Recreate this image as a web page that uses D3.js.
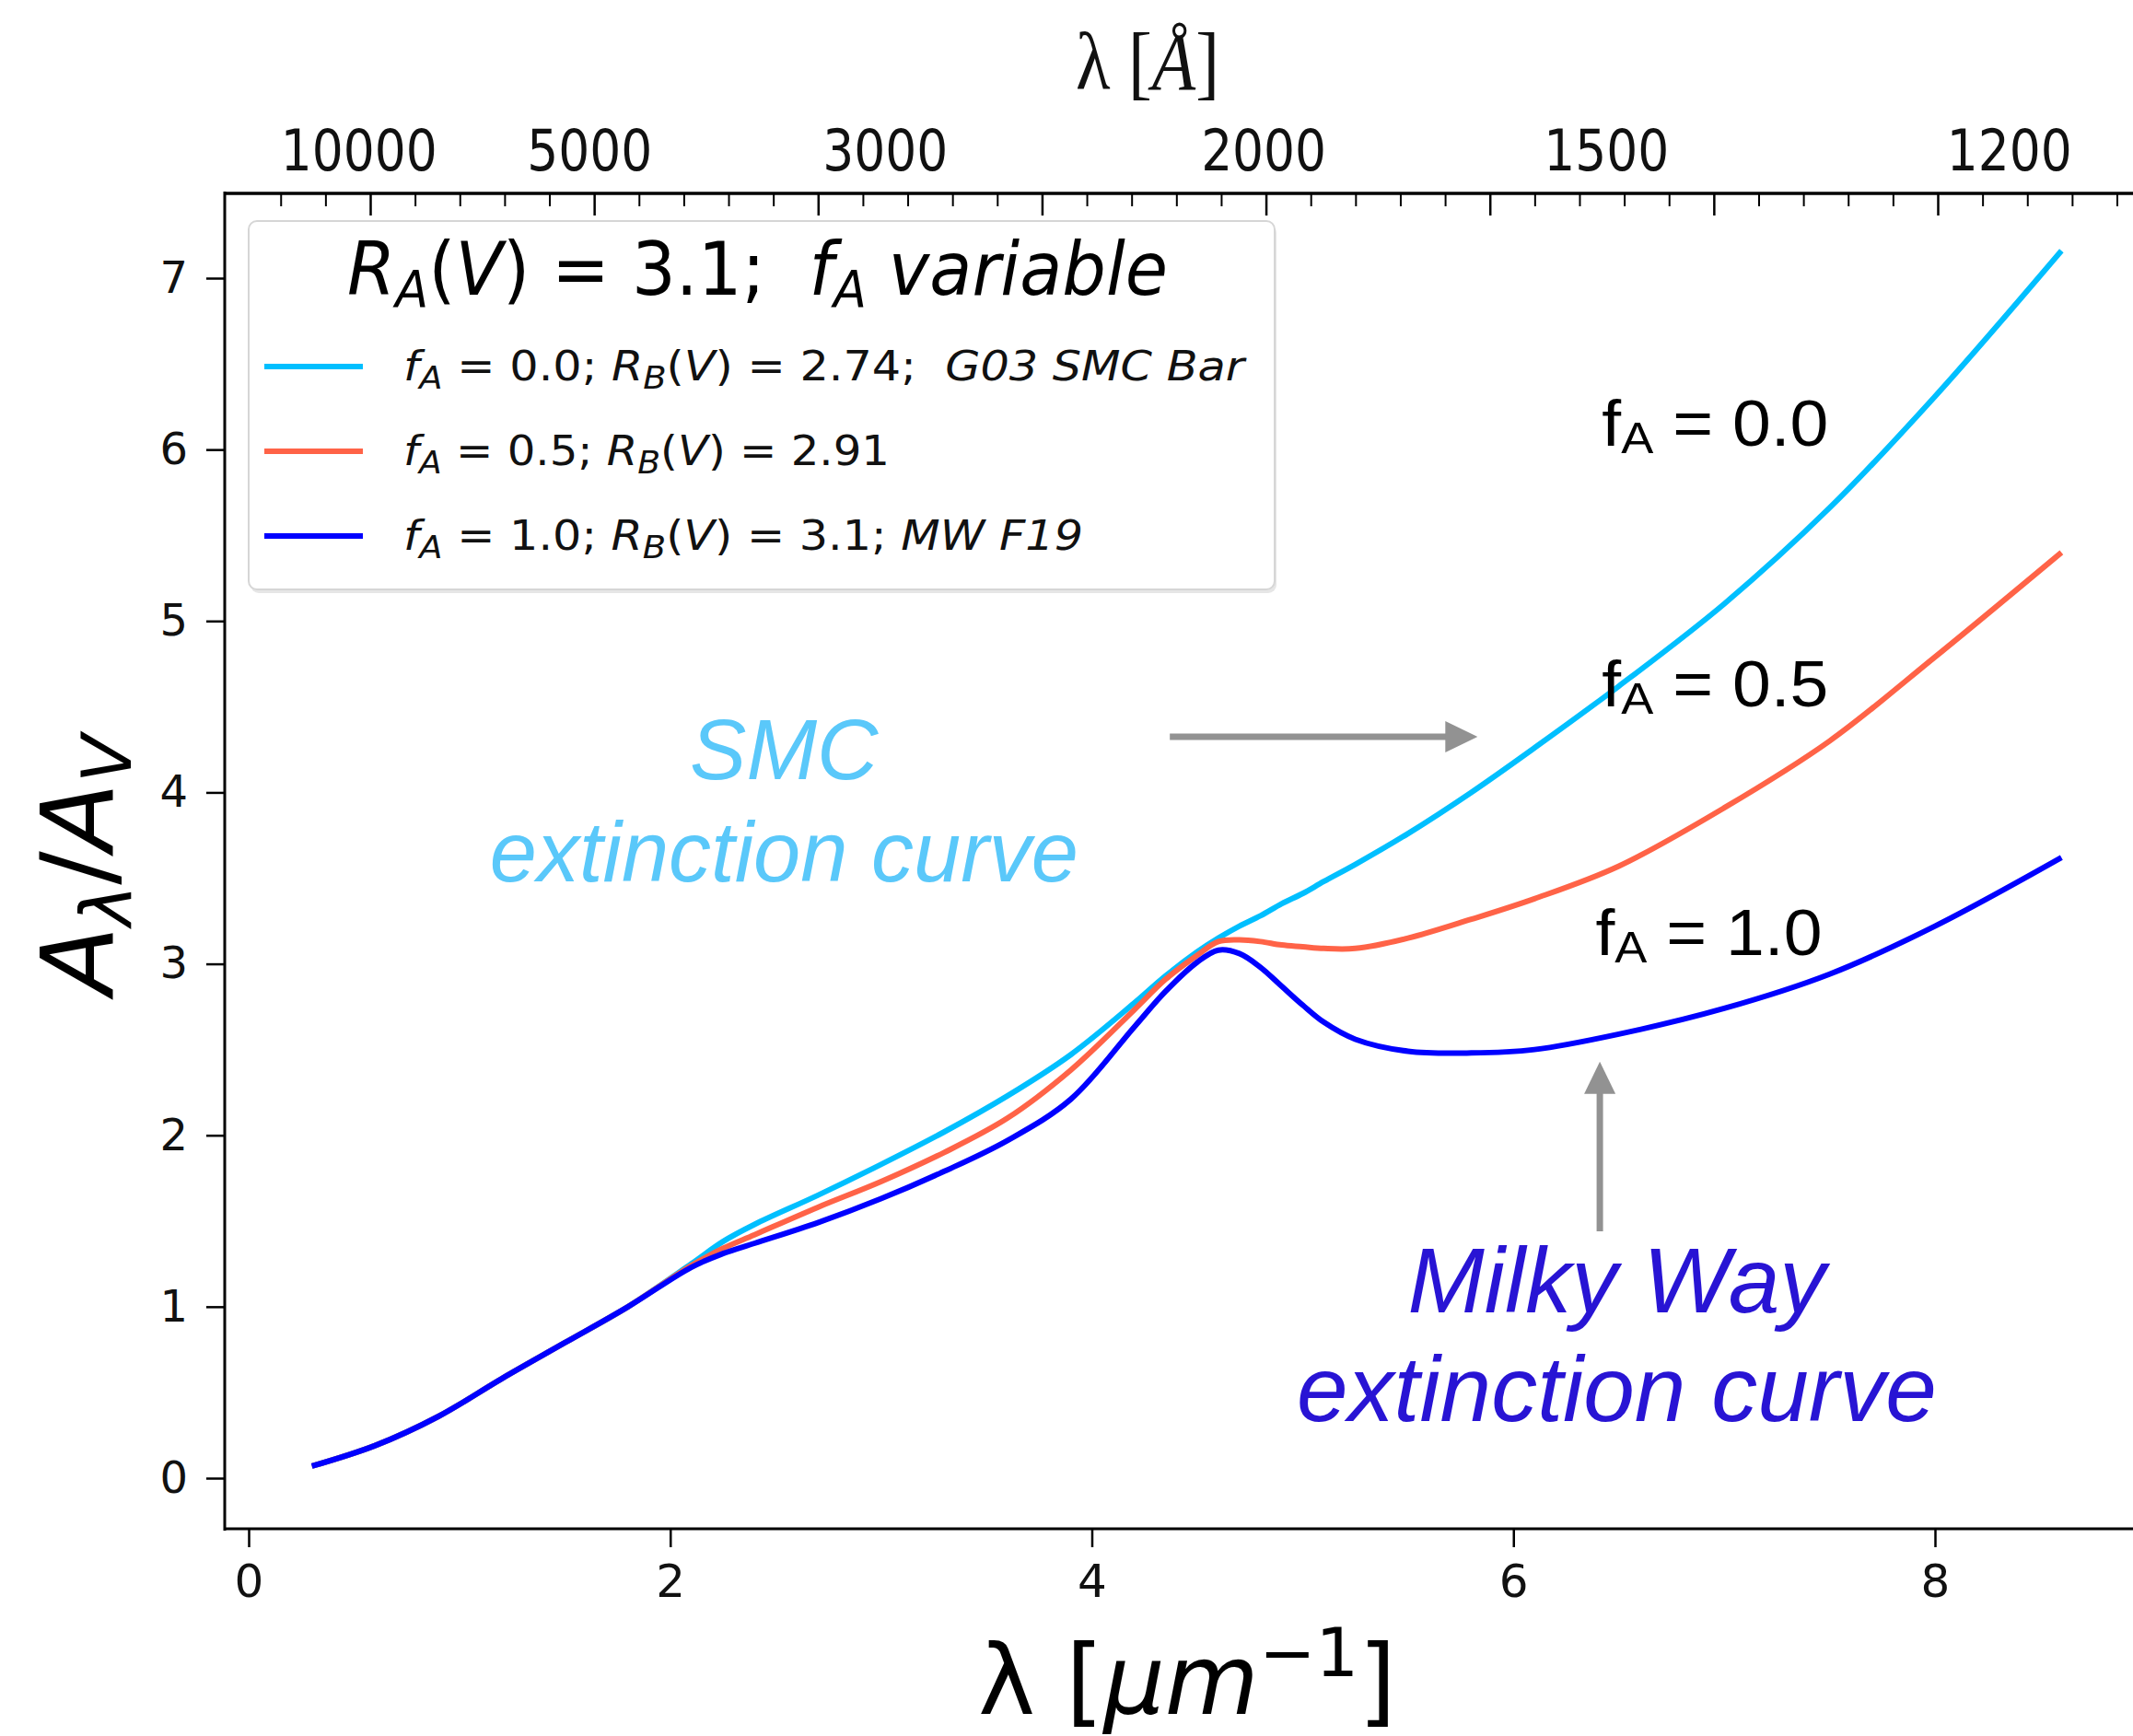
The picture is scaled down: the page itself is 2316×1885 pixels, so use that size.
<!DOCTYPE html>
<html>
<head>
<meta charset="utf-8">
<script src="https://cdnjs.cloudflare.com/ajax/libs/d3/7.8.5/d3.min.js"></script>
<style>
  body { margin: 0; background: #fff; }
  text { white-space: pre; }
</style>
</head>
<body>
<svg id="chart"></svg>
<script>
// wavenumber [1/micron] and A(lambda)/A(V)
const waveNumber = [0.3, 0.6, 0.9, 1.2, 1.5, 1.8, 2.1, 2.25, 2.4, 2.7, 3.0, 3.3, 3.6, 3.9,
  4.2, 4.35, 4.5, 4.6, 4.7, 4.8, 4.9, 5.0, 5.1, 5.25, 5.5, 5.8, 6.1, 6.5, 7.0, 7.5, 8.0, 8.6];
const curveFA00 = [0.07, 0.19, 0.36, 0.58, 0.79, 1.00, 1.25, 1.38, 1.48, 1.65, 1.83, 2.02, 2.23, 2.47,
  2.77, 2.93, 3.07, 3.15, 3.22, 3.28, 3.35, 3.41, 3.48, 3.58, 3.76, 4.00, 4.26, 4.62, 5.10, 5.66, 6.31, 7.16];
const curveFA05 = [0.07, 0.19, 0.36, 0.58, 0.79, 1.00, 1.24, 1.34, 1.42, 1.58, 1.73, 1.90, 2.10, 2.38,
  2.73, 2.91, 3.05, 3.13, 3.14, 3.13, 3.11, 3.10, 3.09, 3.09, 3.15, 3.26, 3.38, 3.57, 3.91, 4.30, 4.79, 5.40];
const curveFA10 = [0.07, 0.19, 0.36, 0.58, 0.79, 1.00, 1.23, 1.31, 1.37, 1.49, 1.63, 1.79, 1.97, 2.21,
  2.63, 2.84, 3.01, 3.08, 3.06, 2.98, 2.87, 2.76, 2.66, 2.56, 2.49, 2.48, 2.50, 2.59, 2.74, 2.94, 3.22, 3.62];

const xTicks = [0, 2, 4, 6, 8];
const yTicks = [0, 1, 2, 3, 4, 5, 6, 7];
const topMajorTicks = [1, 2, 3, 4, 5, 6, 7, 8];
const topLabels = ["10000", "5000", "3000", "2000", "1500", "1200"];
const topLabelAt = [0.95, 1.98, 3.30, 4.99, 6.52, 8.32];

// rich text pieces: [text, kind]  i=italic, n=upright, s=italic subscript, sup=superscript
const legendTitle = [["R", "i"], ["A", "s"], ["(", "n"], ["V", "i"], [") = 3.1;  ", "n"], ["f", "i"], ["A", "s"], [" variable", "i"]];
const legendRows = [
  [["f", "i"], ["A", "s"], [" = 0.0; ", "n"], ["R", "i"], ["B", "s"], ["(", "n"], ["V", "i"], [") = 2.74;  ", "n"], ["G03 SMC Bar", "i"]],
  [["f", "i"], ["A", "s"], [" = 0.5; ", "n"], ["R", "i"], ["B", "s"], ["(", "n"], ["V", "i"], [") = 2.91", "n"]],
  [["f", "i"], ["A", "s"], [" = 1.0; ", "n"], ["R", "i"], ["B", "s"], ["(", "n"], ["V", "i"], [") = 3.1; ", "n"], ["MW F19", "i"]]
];
const legendWidths = [913, 528, 738];
const seriesColors = ["#00bfff", "#ff6347", "#0000ff"];
const series = [curveFA00, curveFA05, curveFA10];

const fLabels = ["0.0", "0.5", "1.0"];
const fLabelAt = [[6.42, 6.02], [6.42, 4.50], [6.39, 3.05]];

const W = 2316, H = 1885;
const svg = d3.select("#chart").attr("width", W).attr("height", H);

const x = d3.scaleLinear().domain([0, 8]).range([270, 2101]);
const y = d3.scaleLinear().domain([0, 7]).range([1605, 302]);
const xTop = d3.scaleLinear().domain([1, 8]).range([402, 2104]);

const plotLeft = 244, plotRight = 2340, plotTop = 210, plotBottom = 1660;

function rich(sel, segs, size, subScale, drop) {
  let cur = 0;
  segs.forEach(s => {
    const t = sel.append("tspan").text(s[0]);
    let target = 0;
    if (s[1] === "i" || s[1] === "s") t.attr("font-style", "italic");
    if (s[1] === "s" || s[1] === "sn") { t.attr("font-size", size * subScale); target = drop; }
    if (s[1] === "sup") { t.attr("font-size", size * subScale); target = -drop; }
    if (target !== cur) t.attr("dy", target - cur);
    cur = target;
  });
}

// curves
const line = d3.line()
  .x((d, i) => x(waveNumber[i]))
  .y(d => y(d))
  .curve(d3.curveCatmullRom.alpha(0.5));

svg.append("g").selectAll("path")
  .data(series)
  .enter()
  .append("path")
  .attr("d", d => line(d))
  .attr("fill", "none")
  .attr("stroke", (d, i) => seriesColors[i])
  .attr("stroke-width", 6)
  .attr("stroke-linecap", "butt");

// spines
svg.append("line").attr("x1", plotLeft).attr("x2", plotLeft).attr("y1", plotTop - 2).attr("y2", plotBottom + 2)
  .attr("stroke", "#000").attr("stroke-width", 3);
svg.append("line").attr("x1", plotLeft).attr("x2", plotRight).attr("y1", plotBottom).attr("y2", plotBottom)
  .attr("stroke", "#000").attr("stroke-width", 3);
svg.append("line").attr("x1", plotLeft).attr("x2", plotRight).attr("y1", plotTop).attr("y2", plotTop)
  .attr("stroke", "#000").attr("stroke-width", 3.5);

// bottom axis
const gx = svg.append("g").attr("transform", `translate(0,${plotBottom})`)
  .call(d3.axisBottom(x).tickValues(xTicks).tickSize(20).tickPadding(18).tickFormat(d3.format("d")));
gx.select(".domain").remove();
gx.selectAll("line").attr("stroke-width", 2.5);
gx.selectAll("text").attr("font-family", "DejaVu Sans").attr("font-size", 50).attr("fill", "#111");

// left axis
const gy = svg.append("g").attr("transform", `translate(${plotLeft},0)`)
  .call(d3.axisLeft(y).tickValues(yTicks).tickSize(20).tickPadding(20).tickFormat(d3.format("d")));
gy.select(".domain").remove();
gy.selectAll("line").attr("stroke-width", 2.5);
gy.selectAll("text").attr("font-family", "DejaVu Sans").attr("font-size", 48).attr("fill", "#111");

// top axis (ticks point inward)
const minorTop = d3.range(0.6, 8.99, 0.2).filter(v => Math.abs(v - Math.round(v)) > 0.05);
const gtMinor = svg.append("g").attr("transform", `translate(0,${plotTop})`)
  .call(d3.axisTop(xTop).tickValues(minorTop).tickSize(-14).tickFormat(""));
gtMinor.select(".domain").remove();
gtMinor.selectAll("line").attr("stroke-width", 2);
const gt = svg.append("g").attr("transform", `translate(0,${plotTop})`)
  .call(d3.axisTop(xTop).tickValues(topMajorTicks).tickSize(-24).tickFormat(""));
gt.select(".domain").remove();
gt.selectAll("line").attr("stroke-width", 2.5);

svg.append("g").selectAll("text")
  .data(topLabels)
  .enter()
  .append("text")
  .attr("x", (d, i) => xTop(topLabelAt[i]))
  .attr("y", 185)
  .attr("text-anchor", "middle")
  .attr("font-family", "DejaVu Sans")
  .attr("font-size", 62)
  .attr("fill", "#111")
  .attr("textLength", d => d.length * 34)
  .attr("lengthAdjust", "spacingAndGlyphs")
  .text(d => d);

// axis titles
const topTitle = svg.append("text")
  .attr("x", 1168).attr("y", 97)
  .attr("font-family", "Liberation Serif")
  .attr("font-size", 88)
  .attr("fill", "#111")
  .attr("textLength", 156)
  .attr("lengthAdjust", "spacingAndGlyphs");
rich(topTitle, [["λ [", "n"], ["Å", "i"], ["]", "n"]], 88, 1, 0);

const xTitle = svg.append("text")
  .attr("x", 1062).attr("y", 1861)
  .attr("font-family", "DejaVu Sans")
  .attr("font-size", 105)
  .attr("fill", "#000")
  .attr("textLength", 454)
  .attr("lengthAdjust", "spacingAndGlyphs");
rich(xTitle, [["λ [", "n"], ["μm", "i"], ["−1", "sup"], ["]", "n"]], 105, 0.7, 41);

const yTitle = svg.append("text")
  .attr("transform", "translate(122,939) rotate(-90)")
  .attr("text-anchor", "middle")
  .attr("font-family", "DejaVu Sans")
  .attr("font-size", 108)
  .attr("fill", "#000")
  .attr("textLength", 282)
  .attr("lengthAdjust", "spacingAndGlyphs");
rich(yTitle, [["A", "i"], ["λ", "s"], ["/", "n"], ["A", "i"], ["V", "s"]], 108, 0.7, 20);

// legend
const lg = svg.append("g");
lg.append("rect").attr("x", 272).attr("y", 244).attr("width", 1114).attr("height", 400).attr("rx", 9)
  .attr("fill", "#e6e6e6");
lg.append("rect").attr("x", 270).attr("y", 240).attr("width", 1114).attr("height", 400).attr("rx", 9)
  .attr("fill", "#fff").attr("stroke", "#d6d6d6").attr("stroke-width", 2);

const lt = lg.append("text")
  .attr("x", 377).attr("y", 320)
  .attr("font-family", "DejaVu Sans").attr("font-size", 80).attr("fill", "#000")
  .attr("textLength", 891).attr("lengthAdjust", "spacingAndGlyphs");
rich(lt, legendTitle, 80, 0.7, 13);

legendRows.forEach((row, i) => {
  const cy = 398 + i * 92;
  lg.append("line").attr("x1", 287).attr("x2", 394).attr("y1", cy).attr("y2", cy)
    .attr("stroke", seriesColors[i]).attr("stroke-width", 6);
  const t = lg.append("text")
    .attr("x", 438).attr("y", cy + 15)
    .attr("font-family", "DejaVu Sans").attr("font-size", 45).attr("fill", "#111")
    .attr("textLength", legendWidths[i]).attr("lengthAdjust", "spacingAndGlyphs");
  rich(t, row, 45, 0.75, 9);
});

// annotations
fLabels.forEach((lab, i) => {
  const t = svg.append("text")
    .attr("x", x(fLabelAt[i][0])).attr("y", y(fLabelAt[i][1]))
    .attr("font-family", "Liberation Sans").attr("font-size", 70).attr("fill", "#000")
    .attr("textLength", 246).attr("lengthAdjust", "spacingAndGlyphs");
  rich(t, [["f", "n"], ["A", "sn"], [" = " + lab, "n"]], 70, 0.7, 8);
});

const noteSMC = [["SMC", 4.08], ["extinction curve", 3.48]];
noteSMC.forEach(d => {
  svg.append("text").attr("x", x(2.54)).attr("y", y(d[1]))
    .attr("text-anchor", "middle").attr("font-family", "Liberation Sans")
    .attr("font-style", "italic").attr("font-size", 92).attr("fill", "#5ac8fa").text(d[0]);
});
const noteMW = [["Milky Way", 0.967], ["extinction curve", 0.333]];
noteMW.forEach(d => {
  svg.append("text").attr("x", x(6.49)).attr("y", y(d[1]))
    .attr("text-anchor", "middle").attr("font-family", "Liberation Sans")
    .attr("font-style", "italic").attr("font-size", 100).attr("fill", "#2814d4").text(d[0]);
});

// gray arrows
const arrowGray = "#929292";
const hx0 = x(4.37), hx1 = x(5.83), hy = y(4.325);
svg.append("line").attr("x1", hx0).attr("x2", hx1 - 32).attr("y1", hy).attr("y2", hy)
  .attr("stroke", arrowGray).attr("stroke-width", 7);
svg.append("path").attr("d", `M${hx1 - 35},${hy - 17}L${hx1},${hy}L${hx1 - 35},${hy + 17}Z`).attr("fill", arrowGray);

const vx = x(6.41), vy0 = y(1.44), vy1 = y(2.43);
svg.append("line").attr("x1", vx).attr("x2", vx).attr("y1", vy0).attr("y2", vy1 + 32)
  .attr("stroke", arrowGray).attr("stroke-width", 7);
svg.append("path").attr("d", `M${vx - 17},${vy1 + 35}L${vx},${vy1}L${vx + 17},${vy1 + 35}Z`).attr("fill", arrowGray);
</script>
</body>
</html>
